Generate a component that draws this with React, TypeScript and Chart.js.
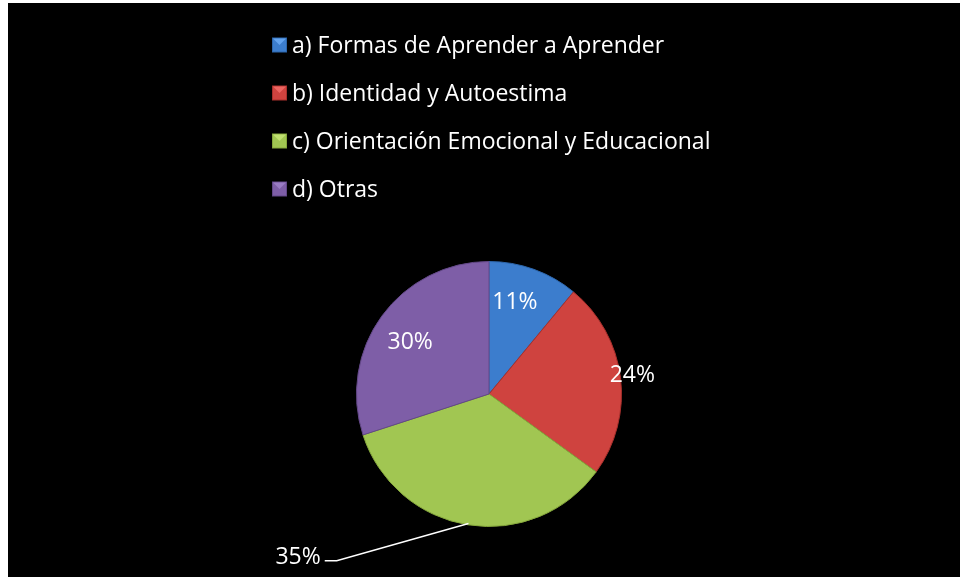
import React, { useEffect, useRef } from "react";
import { Chart, registerables } from "chart.js";

Chart.register(...registerables);

const categories = [
  "a) Formas de Aprender a Aprender",
  "b) Identidad y Autoestima",
  "c) Orientación Emocional y Educacional",
  "d) Otras",
];
const values = [11, 24, 35, 30];
const valueLabels = ["11%", "24%", "35%", "30%"];
const baseColors = ["#3c7dcd", "#cf433f", "#a1c652", "#7e5ea7"];
const rimColors = ["#63a3ee", "#ec6561", "#c0e070", "#9a7cc4"];
const edgeColors = ["#2d66ab", "#a8302c", "#86a83c", "#634888"];

const FONT = "'Open Sans', Lato, sans-serif";

function makeFill(ctx: any, i: number) {
  const chart = ctx.chart;
  const meta = chart.getDatasetMeta(0);
  const arc = meta.data[i] as any;
  if (!arc || !chart.chartArea) return baseColors[i];
  const { x, y, outerRadius } = arc.getProps(["x", "y", "outerRadius"], true);
  if (!outerRadius) return baseColors[i];
  const g = chart.ctx.createRadialGradient(x, y, 0, x, y, outerRadius);
  g.addColorStop(0, baseColors[i]);
  g.addColorStop(0.86, baseColors[i]);
  g.addColorStop(0.93, rimColors[i]);
  g.addColorStop(1, edgeColors[i]);
  return g;
}

const legendPlugin = {
  id: "customLegend",
  afterDraw(chart: any) {
    const ctx = chart.ctx;
    const x0 = 264;
    const y0 = 42;
    const step = 48;
    const box = 15;
    ctx.save();
    ctx.font = `23px ${FONT}`;
    ctx.textBaseline = "middle";
    ctx.textAlign = "left";
    categories.forEach((c, i) => {
      const y = y0 + i * step;
      const bx = x0;
      const by = y - box / 2;
      ctx.fillStyle = edgeColors[i];
      ctx.fillRect(bx, by, box, box);
      ctx.fillStyle = baseColors[i];
      ctx.fillRect(bx + 1, by + 1, box - 2, box - 2);
      ctx.fillStyle = rimColors[i];
      ctx.beginPath();
      ctx.moveTo(bx + 1, by + 1);
      ctx.lineTo(bx + box - 1, by + 1);
      ctx.lineTo(bx + box / 2, by + box / 2);
      ctx.closePath();
      ctx.fill();
      ctx.fillStyle = "#ffffff";
      ctx.fillText(c, bx + box + 5, y + 1);
    });
    ctx.restore();
  },
};

const labelPlugin = {
  id: "sliceLabels",
  afterDatasetsDraw(chart: any, _args: any, opts: any) {
    const ctx = chart.ctx;
    const meta = chart.getDatasetMeta(0);
    ctx.save();
    ctx.font = `23px ${FONT}`;
    ctx.fillStyle = "#ffffff";
    ctx.textBaseline = "middle";
    meta.data.forEach((arc: any, i: number) => {
      const p = arc.getProps(["x", "y", "startAngle", "endAngle", "outerRadius"], true);
      const mid = (p.startAngle + p.endAngle) / 2;
      const r = p.outerRadius;
      const spec = opts.specs[i];
      if (spec.leader) {
        const lx = p.x + spec.dx * r;
        const ly = p.y + spec.dy * r;
        ctx.textAlign = "right";
        ctx.fillText(valueLabels[i], lx, ly);
        const ax = p.x + Math.cos(mid) * r * 0.99;
        const ay = p.y + Math.sin(mid) * r * 0.99;
        ctx.strokeStyle = "#ffffff";
        ctx.lineWidth = 1.5;
        ctx.beginPath();
        ctx.moveTo(lx + 4, ly + 3);
        ctx.lineTo(lx + 16, ly + 3);
        ctx.lineTo(ax, ay);
        ctx.stroke();
      } else {
        const a = mid + (spec.da || 0);
        const tx = p.x + Math.cos(a) * r * spec.f;
        const ty = p.y + Math.sin(a) * r * spec.f;
        ctx.textAlign = "center";
        ctx.fillText(valueLabels[i], tx, ty);
      }
    });
    ctx.restore();
  },
};

export default function App() {
  const ref = useRef<HTMLCanvasElement | null>(null);
  useEffect(() => {
    if (!ref.current) return;
    const chart = new Chart(ref.current, {
      type: "pie",
      data: {
        labels: categories,
        datasets: [
          {
            data: values,
            backgroundColor: (ctx: any) => makeFill(ctx, ctx.dataIndex),
            borderColor: edgeColors,
            borderWidth: 1,
          },
        ],
      },
      options: {
        responsive: false,
        animation: false,
        layout: { padding: { top: 258, bottom: 50, left: 348, right: 338 } },
        plugins: {
          legend: { display: false },
          tooltip: { enabled: false },
          sliceLabels: {
            specs: [
              { f: 0.72, da: -0.07 },
              { f: 1.09, da: 0 },
              { leader: true, dx: -1.27, dy: 1.235 },
              { f: 0.71, da: -0.05 },
            ],
          },
        } as any,
      },
      plugins: [legendPlugin, labelPlugin],
    });
    return () => chart.destroy();
  }, []);
  return (
    <div
      style={{
        position: "absolute",
        left: 8,
        top: 3,
        width: 952,
        height: 574,
        background: "#000000",
      }}
    >
      <canvas ref={ref} width={952} height={574} style={{ display: "block" }} />
    </div>
  );
}
